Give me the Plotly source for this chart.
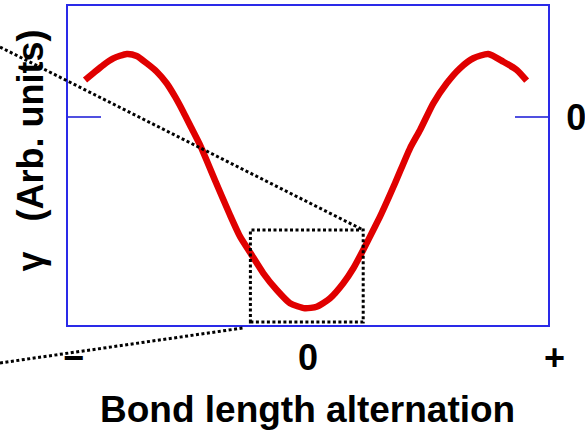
import plotly.graph_objects as go

# Curve (bond length alternation vs gamma, arbitrary units)
bla = [-0.929, -0.895, -0.853, -0.811, -0.755, -0.714, -0.672, -0.630, -0.589, -0.554,
       -0.520, -0.485, -0.450, -0.388, -0.325, -0.283, -0.239, -0.186, -0.130, -0.075,
       -0.013, 0.036, 0.092, 0.147, 0.189, 0.230, 0.272, 0.300, 0.363, 0.425,
       0.467, 0.522, 0.578, 0.633, 0.689, 0.751, 0.814, 0.870, 0.911]
gamma = [0.333, 0.394, 0.468, 0.528, 0.568, 0.550, 0.484, 0.408, 0.304, 0.183,
         0.048, -0.102, -0.252, -0.568, -0.883, -1.078, -1.228, -1.408, -1.559, -1.678,
         -1.723, -1.709, -1.633, -1.498, -1.363, -1.198, -1.018, -0.898, -0.595, -0.282,
         -0.117, 0.123, 0.304, 0.439, 0.529, 0.568, 0.498, 0.423, 0.327]

x_tick_vals = [-0.977, 0.0, 1.025]
x_tick_text = ["\u2212", "0", "+"]
y_tick_vals = [0]
y_tick_text = ["0"]

x_range = [-1.0, 1.0]
y_range = [-1.874, 1.0]

# dotted zoom window (data units)
zoom_x = [-0.24, 0.23]
zoom_y = [-1.847, -1.018]

FONT = "Arial, Liberation Sans, sans-serif"
AXC = "#2a2ae8"

fig = go.Figure()
fig.add_trace(go.Scatter(x=bla, y=gamma, mode="lines",
                         line=dict(color="#e00000", width=6.5, shape="spline", smoothing=0.6),
                         hoverinfo="skip", showlegend=False))

def to_paper_x(v):
    return (v - x_range[0]) / (x_range[1] - x_range[0])

def to_paper_y(v):
    return (v - y_range[0]) / (y_range[1] - y_range[0])

dot = dict(color="black", width=3, dash="3px,2.5px")
shapes = [
    dict(type="rect", xref="x", yref="y", x0=zoom_x[0], x1=zoom_x[1], y0=zoom_y[0], y1=zoom_y[1],
         line=dot, layer="above"),
    # leader lines from the zoom window out of the frame
    dict(type="line", xref="paper", yref="paper", x0=-0.1417, y0=0.8715,
         x1=to_paper_x(zoom_x[1]), y1=to_paper_y(zoom_y[1]), line=dot, layer="above"),
    dict(type="line", xref="paper", yref="paper", x0=-0.1417, y0=-0.119,
         x1=0.3646, y1=-0.0094, line=dot, layer="above"),
]

annotations = []
for v, t in zip(x_tick_vals, x_tick_text):
    annotations.append(dict(x=to_paper_x(v), y=-0.103, xref="paper", yref="paper", text=t,
                            showarrow=False, xanchor="center", yanchor="middle",
                            font=dict(family=FONT, size=36, color="black", weight="bold")))
annotations.append(dict(x=0.498, y=-0.266, xref="paper", yref="paper",
                        text="Bond length alternation", showarrow=False,
                        xanchor="center", yanchor="middle",
                        font=dict(family=FONT, size=37, color="black", weight="bold")))
annotations.append(dict(x=-0.079, y=0.547, xref="paper", yref="paper",
                        text="\u03b3\u00a0\u00a0\u00a0(Arb. units)", showarrow=False, textangle=-90,
                        xanchor="center", yanchor="middle",
                        font=dict(family=FONT, size=36, color="black", weight="bold")))

fig.update_layout(
    width=585, height=430, autosize=False,
    margin=dict(l=68, r=37, t=6, b=105, autoexpand=False),
    paper_bgcolor="white", plot_bgcolor="white",
    shapes=shapes, annotations=annotations,
    xaxis=dict(range=x_range, showgrid=False, zeroline=False, showline=True, mirror=True,
               linecolor=AXC, linewidth=2, ticks="", showticklabels=False, fixedrange=True,
               automargin=False),
    yaxis=dict(range=y_range, side="right", showgrid=False, zeroline=False, showline=True,
               mirror="ticks", linecolor=AXC, linewidth=2, ticks="inside", ticklen=33,
               tickwidth=2, tickcolor="#5050e0", tickvals=y_tick_vals, ticktext=y_tick_text,
               ticklabelstandoff=9, automargin=False,
               tickfont=dict(family=FONT, size=36, color="black", weight="bold"), fixedrange=True),
    showlegend=False,
)

fig.write_html("out.html", config={"displayModeBar": False},
               post_script="document.body.style.margin='0';document.body.style.overflow='hidden';")
